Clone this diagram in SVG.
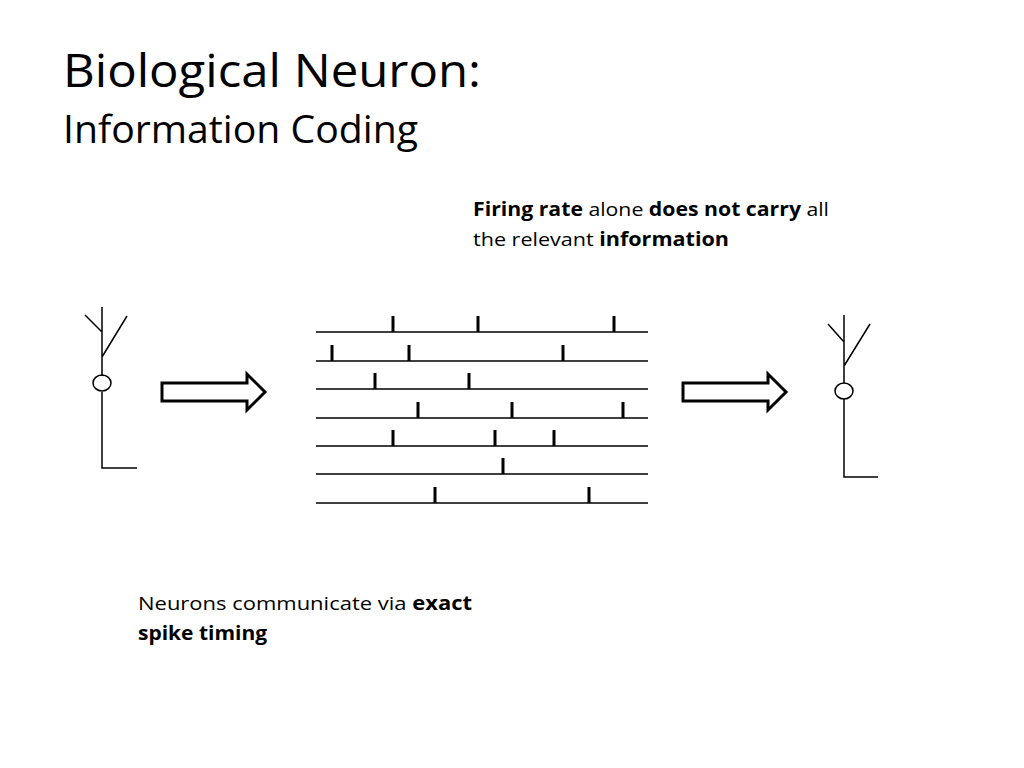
<svg xmlns="http://www.w3.org/2000/svg" width="1024" height="768" viewBox="0 0 1024 768">
<style>
.t{font-family:"Open Sans","Liberation Sans",sans-serif;fill:#000}
.b{font-weight:bold}
.ln{stroke:#000;stroke-width:1.5;fill:none}
.sp{stroke:#000;stroke-width:3}
.ar{fill:#fff;stroke:#000;stroke-width:3;stroke-linejoin:miter}
</style>
<rect width="1024" height="768" fill="#fff"/>
<text class="t" x="63" y="87" font-size="45" textLength="418" lengthAdjust="spacingAndGlyphs">Biological Neuron:</text>
<text class="t" x="63" y="143" font-size="38" textLength="355" lengthAdjust="spacingAndGlyphs">Information Coding</text>
<g id="caption-top">
<text class="t" x="473" y="216" font-size="19" textLength="356" lengthAdjust="spacingAndGlyphs"><tspan class="b">Firing rate</tspan> alone <tspan class="b">does not carry</tspan> all</text>
<text class="t" x="473" y="246" font-size="19" textLength="256" lengthAdjust="spacingAndGlyphs">the relevant <tspan class="b">information</tspan></text>
</g>
<g id="caption-bottom">
<text class="t" x="138" y="610" font-size="19" textLength="334" lengthAdjust="spacingAndGlyphs">Neurons communicate via <tspan class="b">exact</tspan></text>
<text class="t" x="138" y="640" font-size="19" textLength="129" lengthAdjust="spacingAndGlyphs" font-weight="bold">spike timing</text>
</g>
<g id="neuron-left">
<path class="ln" d="M102 307 V376 M85 315 L102 332 M127 316 L102 357 M102 392 V468 H137"/>
<ellipse class="ln" cx="102" cy="383" rx="9" ry="8"/>
</g>
<g id="neuron-right">
<path class="ln" d="M844 315 V383 M828 324 L844 342 M870 324 L844 366 M844 399 V477 H878"/>
<ellipse class="ln" cx="844" cy="391" rx="9" ry="8"/>
</g>
<g id="spike-trains">
<g class="ln">
<line x1="316" y1="332" x2="648" y2="332"/>
<line x1="316" y1="361" x2="648" y2="361"/>
<line x1="316" y1="389" x2="648" y2="389"/>
<line x1="316" y1="418" x2="648" y2="418"/>
<line x1="316" y1="446" x2="648" y2="446"/>
<line x1="316" y1="474" x2="648" y2="474"/>
<line x1="316" y1="503" x2="648" y2="503"/>
</g>
<path class="sp" d="M393 316V332M478 316V332M614 316V332
M332 345V361M409 345V361M563 345V361
M375 373V389M469 373V389
M418 402V418M512 402V418M623 402V418
M393 430V446M495 430V446M554 430V446
M503 458V474
M435 487V503M589 487V503"/>
</g>
<g id="connectors">
<path id="arrow-left" class="ar" d="M162 383 H247 V374 L265 392 L247 410 V401 H162 Z"/>
<path id="arrow-right" class="ar" d="M683 383 H768 V374 L786 392 L768 410 V401 H683 Z"/>
</g>
</svg>
